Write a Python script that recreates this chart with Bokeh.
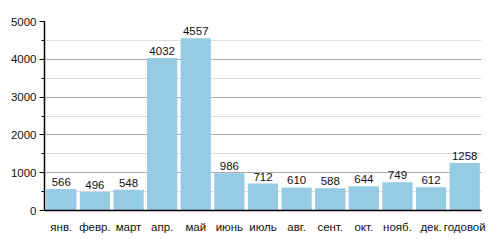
from bokeh.plotting import figure
from bokeh.models import ColumnDataSource, FactorRange, Range1d, SingleIntervalTicker, LabelSet
from bokeh.core.properties import value
from bokeh.embed import file_html
from bokeh.resources import INLINE

months = ["янв.", "февр.", "март", "апр.", "май", "июнь", "июль", "авг.", "сент.", "окт.", "нояб.", "дек.", "годовой"]
values = [566, 496, 548, 4032, 4557, 986, 712, 610, 588, 644, 749, 612, 1258]

src = ColumnDataSource(dict(x=months, y=values, lab=[str(v) for v in values]))

p = figure(width=500, height=250, x_range=FactorRange(*months, range_padding=0),
           y_range=Range1d(0, 5000), output_backend="svg", toolbar_location=None,
           min_border_left=44, min_border_right=19, min_border_top=21, min_border_bottom=40)
p.outline_line_color = None
p.background_fill_color = "white"
p.border_fill_color = "white"

p.vbar(x="x", top="y", width=0.9, source=src, fill_color="#96cbe6", line_color=None)

labels = LabelSet(x="x", y="y", text="lab", source=src, text_align="center", text_baseline="bottom",
                  y_offset=3, text_font_size="11.5px", text_color="#111111",
                  text_font=value("Liberation Sans"))
p.add_layout(labels)

p.yaxis.ticker = SingleIntervalTicker(interval=1000, num_minor_ticks=2)
p.ygrid.ticker = p.yaxis.ticker
p.ygrid.grid_line_color = "#aaaaaa"
p.ygrid.minor_grid_line_color = "#dddddd"
p.xgrid.grid_line_color = None

for ax in (p.xaxis, p.yaxis):
    ax.axis_line_color = "black"
    ax.axis_line_width = 1.5
    ax.major_label_text_font = "Liberation Sans"
    ax.major_label_text_font_size = "11.5px"
    ax.major_label_text_color = "#111111"

p.yaxis.major_tick_line_color = "black"
p.yaxis.minor_tick_line_color = "black"
p.yaxis.major_tick_out = 5
p.yaxis.major_tick_in = 0
p.yaxis.minor_tick_out = 3
p.yaxis.minor_tick_in = 0
p.yaxis.major_label_standoff = 3
p.xaxis.major_tick_line_color = None
p.xaxis.minor_tick_line_color = None
p.xaxis.major_label_standoff = 4

open("out.html", "w").write(file_html(p, INLINE))
